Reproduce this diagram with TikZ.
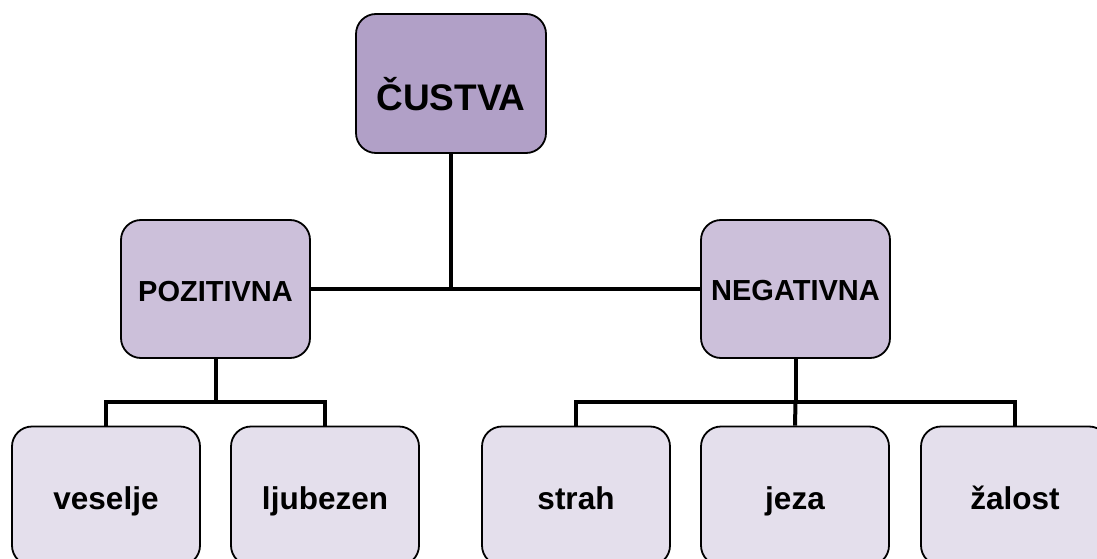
\documentclass[tikz,border=0pt]{standalone}
\usepackage{fontspec}
\setmainfont{Liberation Sans}
\definecolor{lvlA}{HTML}{B1A0C7}
\definecolor{lvlB}{HTML}{CCC0DA}
\definecolor{lvlC}{HTML}{E4DFEC}
\begin{document}
\begin{tikzpicture}[x=1pt,y=-1pt,
  box/.style={draw=black,line width=1.8pt,rounded corners=20pt,inner sep=0pt},
  boxA/.style={box,fill=lvlA,minimum width=190pt,minimum height=139pt},
  boxB/.style={box,fill=lvlB,minimum width=189pt,minimum height=138pt},
  boxC/.style={box,fill=lvlC,minimum width=188pt,minimum height=139pt},
  lblA/.style={anchor=base,inner sep=0pt,font=\fontsize{37}{41}\selectfont\bfseries},
  lblB/.style={anchor=base,inner sep=0pt,font=\fontsize{29}{33}\selectfont\bfseries},
  lblC/.style={anchor=base,inner sep=0pt,font=\fontsize{31.5}{35}\selectfont\bfseries},
  conn/.style={line width=4pt}]
\useasboundingbox (0,0) rectangle (1097,559);
\clip (0,0) rectangle (1097,559);
% boxes
\node[boxA] (root) at (451,83.5) {};
\node[boxB] (pos) at (215.5,289) {};
\node[boxB] (neg) at (795.5,289) {};
\node[boxC] (ves) at (106,496) {};
\node[boxC] (lju) at (325,496) {};
\node[boxC] (str) at (576,496) {};
\node[boxC] (jez) at (795,496) {};
\node[boxC] (zal) at (1015,496) {};
% labels
\node[lblA] (troot) at (451,111) {ČUSTVA};
\node[lblB] (tpos) at (215.5,301) {POZITIVNA};
\node[lblB] (tneg) at (795.5,300) {NEGATIVNA};
\node[lblC] (tves) at (106,509) {veselje};
\node[lblC] (tlju) at (325,509) {ljubezen};
\node[lblC] (tstr) at (576,509) {strah};
\node[lblC] (tjez) at (795,509) {jeza};
\node[lblC] (tzal) at (1015,509) {žalost};
% connectors
\coordinate (hubA) at (root.south |- pos.east);
\coordinate (busP) at (pos.south |- 0,402);
\coordinate (busN) at (neg.south |- 0,402);
\draw[conn] (root.south) -- (hubA);
\draw[conn] (pos.east) -- (neg.west);
\draw[conn] (pos.south) -- (busP);
\draw[conn] (ves.north) -- (ves.north |- busP) -- (lju.north |- busP) -- (lju.north);
\draw[conn] (neg.south) -- (busN);
\draw[conn] (str.north) -- (str.north |- busN) -- (zal.north |- busN) -- (zal.north);
\draw[conn] (busN) -- (jez.north);
\end{tikzpicture}
\end{document}
